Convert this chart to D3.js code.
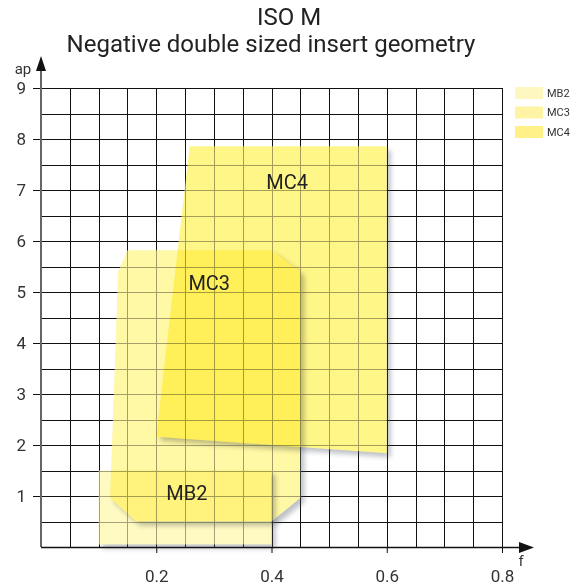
<!DOCTYPE html>
<html lang="en">
<head>
<meta charset="UTF-8" />
<style>
  body { margin: 0; background: #fff; }
  svg text { font-family: Roboto, "Noto Sans", sans-serif; }
</style>
</head>
<body>
<svg id="chart" width="578" height="586"></svg>
<script src="https://d3js.org/d3.v7.min.js"></script>
<script>
// ---- data (f, ap) ----
var seriesNames = ["MB2", "MC3", "MC4"];
var mb2Points = [[0.1, 0.05], [0.4, 0.05], [0.4, 1.5], [0.1, 1.5]];
var mc3Points = [[0.15, 5.82], [0.4, 5.82], [0.45, 5.4], [0.45, 0.96], [0.4, 0.5],
                 [0.165, 0.5], [0.12, 0.96], [0.134, 5.4]];
var mc4Points = [[0.258, 7.86], [0.6, 7.86], [0.6, 1.84], [0.2, 2.16]];
var labelPos = [[0.253, 1.06], [0.292, 5.18], [0.427, 7.16]];
var xTicks = [0.2, 0.4, 0.6, 0.8];
var yTicks = [1, 2, 3, 4, 5, 6, 7, 8, 9];

var fills = { MB2: "#fffac2", MC3: "#fff8a4", MC4: "#fff688" };
var legendColors = { MB2: "#fff7c0", MC3: "#fff4a4", MC4: "#fff088" };

var svg = d3.select("#chart");
var x = d3.scaleLinear().domain([0, 0.8]).range([41, 502]);
var y = d3.scaleLinear().domain([0, 9]).range([547, 88]);

// title
svg.append("text").attr("x", 289).attr("y", 25).attr("text-anchor", "middle")
  .attr("font-size", 24).attr("fill", "#222").text("ISO M");
svg.append("text").attr("x", 271).attr("y", 52).attr("text-anchor", "middle")
  .attr("font-size", 24).attr("fill", "#222").text("Negative double sized insert geometry");

// grid
var grid = svg.append("g").attr("stroke", "#111").attr("stroke-width", 1).attr("shape-rendering", "crispEdges");
grid.selectAll(".v").data(d3.range(1, 17).map(i => i * 0.05)).enter().append("line")
  .attr("x1", d => Math.round(x(d)) + 0.5).attr("x2", d => Math.round(x(d)) + 0.5)
  .attr("y1", y(9)).attr("y2", y(0));
grid.selectAll(".h").data(d3.range(1, 19).map(i => i * 0.5)).enter().append("line")
  .attr("x1", x(0)).attr("x2", x(0.8))
  .attr("y1", d => Math.round(y(d)) + 0.5).attr("y2", d => Math.round(y(d)) + 0.5);

var shapes = [
  { name: "MC4", pts: mc4Points },
  { name: "MC3", pts: mc3Points },
  { name: "MB2", pts: mb2Points }
];
function ptsStr(p) { return p.map(d => x(d[0]) + "," + y(d[1])).join(" "); }

// light veil so grid reads grey under the shapes
var veil = svg.append("g").attr("opacity", 0.62);
shapes.forEach(function (s) {
  veil.append("polygon").attr("points", ptsStr(s.pts)).attr("fill", "#fff");
});

// shadows
var defs = svg.append("defs");
defs.append("filter").attr("id", "blur").attr("x", "-20%").attr("y", "-20%").attr("width", "140%").attr("height", "140%")
  .append("feGaussianBlur").attr("stdDeviation", 2.5);

shapes.forEach(function (s) {
  var m = defs.append("mask").attr("id", "m" + s.name);
  m.append("rect").attr("width", 578).attr("height", 586).attr("fill", "#fff");
  m.append("polygon").attr("points", ptsStr(s.pts)).attr("fill", "#000");
  var g = svg.append("g").attr("mask", "url(#m" + s.name + ")");
  g.append("polygon").attr("points", ptsStr(s.pts))
    .attr("transform", "translate(4,4)")
    .attr("fill", "#4a4f60").attr("opacity", 0.35).attr("filter", "url(#blur)");
});

// shapes, multiplied
shapes.forEach(function (s) {
  svg.append("polygon").attr("points", ptsStr(s.pts))
    .attr("fill", fills[s.name]).style("mix-blend-mode", "multiply");
});

// series labels
svg.selectAll(".lbl").data(seriesNames).enter().append("text")
  .attr("x", (d, i) => x(labelPos[i][0])).attr("y", (d, i) => y(labelPos[i][1]))
  .attr("dy", "0.36em").attr("text-anchor", "middle")
  .attr("font-size", 20).attr("fill", "#222").text(d => d);

// axes
var yAxis = svg.append("g").attr("transform", "translate(" + x(0) + ",0)")
  .call(d3.axisLeft(y).tickValues(yTicks).tickSize(8).tickPadding(7).tickFormat(d3.format("d")));
yAxis.select(".domain").remove();
yAxis.selectAll("line").attr("stroke", "#111");
yAxis.selectAll("text").attr("font-size", 17).attr("fill", "#333");

var xAxis = svg.append("g").attr("transform", "translate(0," + y(0) + ")")
  .call(d3.axisBottom(x).tickValues(xTicks).tickSize(6).tickPadding(17).tickFormat(d3.format(".1f")));
xAxis.select(".domain").remove();
xAxis.selectAll("line").attr("stroke", "#111");
xAxis.selectAll("text").attr("font-size", 17).attr("fill", "#333");

// axis lines with arrows
svg.append("line").attr("x1", x(0)).attr("x2", x(0)).attr("y1", y(0)).attr("y2", 70)
  .attr("stroke", "#666").attr("stroke-width", 2);
svg.append("polygon").attr("points", [[x(0) - 5, 71], [x(0), 56], [x(0) + 5, 71]].join(" "))
  .attr("fill", "#111");
svg.append("line").attr("x1", x(0)).attr("x2", 520).attr("y1", y(0) + 0.5).attr("y2", y(0) + 0.5)
  .attr("stroke", "#111").attr("stroke-width", 1.5);
svg.append("polygon").attr("points", [[519, y(0) - 5], [534, y(0) + 0.5], [519, y(0) + 6]].join(" "))
  .attr("fill", "#111");
svg.append("text").attr("x", 23).attr("y", 74).attr("text-anchor", "middle")
  .attr("font-size", 15).attr("fill", "#333").text("ap");
svg.append("text").attr("x", 521).attr("y", 566).attr("text-anchor", "middle")
  .attr("font-size", 15).attr("fill", "#333").text("f");

// legend
var leg = svg.append("g").selectAll("g").data(seriesNames).enter().append("g")
  .attr("transform", (d, i) => "translate(515," + (87 + i * 19.5) + ")");
leg.append("rect").attr("width", 28).attr("height", 12).attr("fill", d => legendColors[d]);
leg.append("text").attr("x", 32).attr("y", 6).attr("dy", "0.35em")
  .attr("font-size", 11).attr("fill", "#333").text(d => d);
</script>
</body>
</html>
